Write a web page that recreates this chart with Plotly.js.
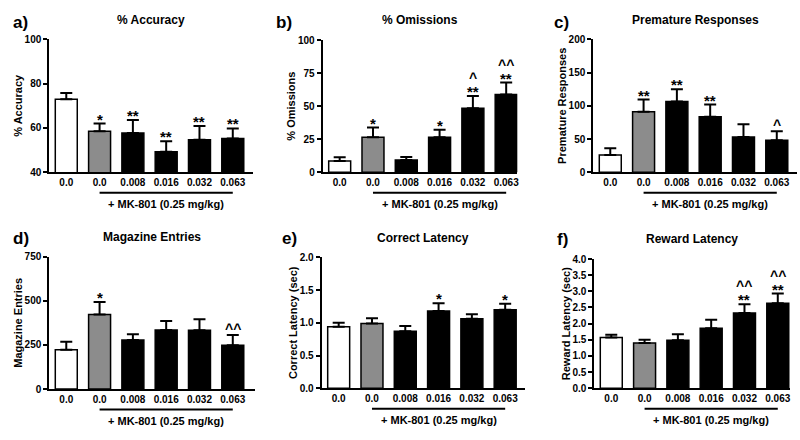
<!DOCTYPE html>
<html>
<head>
<meta charset="utf-8">
<script src="https://cdn.plot.ly/plotly-3.0.1.min.js"></script>
<style>html,body{margin:0;padding:0;background:#fff;}#chart{width:800px;height:440px;}</style>
</head>
<body>
<div id="chart"></div>
<script>
// ---- data ----
const doseLabels = ['0.0', '0.0', '0.008', '0.016', '0.032', '0.063'];
const groupLabel = '+ MK-801 (0.25 mg/kg)';

const panelLetters = ['a)', 'b)', 'c)', 'd)', 'e)', 'f)'];
const panelTitles = ['% Accuracy', '% Omissions', 'Premature Responses', 'Magazine Entries', 'Correct Latency', 'Reward Latency'];
const yTitles = ['% Accuracy', '% Omissions', 'Premature Responses', 'Magazine Entries', 'Correct Latency (sec)', 'Reward Latency (sec)'];

const accuracy = [72.9, 58.5, 57.7, 49.3, 54.7, 55.3];
const accuracyErr = [2.9, 3.5, 5.9, 4.7, 6.2, 4.5];
const omissions = [8.6, 26.4, 9.3, 26.4, 48.4, 58.9];
const omissionsErr = [2.7, 7.4, 2.3, 5.8, 9.3, 8.9];
const premature = [26.1, 91.2, 106.3, 83.7, 53.1, 48.1];
const prematureErr = [10.0, 18.1, 18.5, 18.1, 19.1, 13.6];
const magazine = [223, 423, 278, 335, 333, 248];
const magazineErr = [45, 70, 32, 51, 62, 58];
const correctLatency = [0.94, 0.99, 0.87, 1.18, 1.06, 1.20];
const correctLatencyErr = [0.06, 0.08, 0.08, 0.12, 0.07, 0.09];
const rewardLatency = [1.57, 1.40, 1.49, 1.86, 2.33, 2.63];
const rewardLatencyErr = [0.09, 0.10, 0.18, 0.26, 0.27, 0.30];

// significance markers (* vs vehicle, ^ vs MK-801 alone)
const accuracyStars = ['', '*', '**', '**', '**', '**'];
const accuracyCarets = ['', '', '', '', '', ''];
const omissionsStars = ['', '*', '', '*', '**', '**'];
const omissionsCarets = ['', '', '', '', '^', '^^'];
const prematureStars = ['', '**', '**', '**', '', ''];
const prematureCarets = ['', '', '', '', '', '^'];
const magazineStars = ['', '*', '', '', '', ''];
const magazineCarets = ['', '', '', '', '', '^^'];
const correctLatencyStars = ['', '', '', '*', '', '*'];
const correctLatencyCarets = ['', '', '', '', '', ''];
const rewardLatencyStars = ['', '', '', '', '**', '**'];
const rewardLatencyCarets = ['', '', '', '', '^^', '^^'];

const yRanges = [[40, 100], [0, 100], [0, 200], [0, 750], [0, 2], [0, 4]];
const yTickVals = [[40, 60, 80, 100], [0, 25, 50, 75, 100], [0, 50, 100, 150, 200], [0, 250, 500, 750],
  [0, 0.5, 1.0, 1.5, 2.0], [0, 0.5, 1.0, 1.5, 2.0, 2.5, 3.0, 3.5, 4.0]];

const values = [accuracy, omissions, premature, magazine, correctLatency, rewardLatency];
const errors = [accuracyErr, omissionsErr, prematureErr, magazineErr, correctLatencyErr, rewardLatencyErr];
const stars = [accuracyStars, omissionsStars, prematureStars, magazineStars, correctLatencyStars, rewardLatencyStars];
const carets = [accuracyCarets, omissionsCarets, prematureCarets, magazineCarets, correctLatencyCarets, rewardLatencyCarets];

// ---- layout geometry (pixels) ----
const W = 800, H = 440;
const boxes = [
  {l: 49.3, r: 253, t: 39.3, b: 172.3},
  {l: 322.7, r: 517.3, t: 40, b: 172.3},
  {l: 593.3, r: 797, t: 39.3, b: 172.3},
  {l: 49.3, r: 255, t: 256.7, b: 389},
  {l: 321.7, r: 525, t: 257.3, b: 388.3},
  {l: 594.3, r: 790, t: 259, b: 388.3}
];
const letterPos = [[20, 22], [284, 22], [561, 22], [21, 238], [289, 238], [562, 239]];
const titleY = [20, 20, 20, 237, 238, 239];
const FONT = 'Liberation Sans, Arial, sans-serif';
const fillColors = ['#ffffff', '#8c8c8c', '#000000', '#000000', '#000000', '#000000'];
const catStep = 33.3;

const xIdx = doseLabels.map((_, i) => i);
const traces = [];
const layout = {
  width: W, height: H,
  margin: {l: 0, r: 0, t: 0, b: 0},
  paper_bgcolor: '#fff', plot_bgcolor: 'rgba(0,0,0,0)',
  showlegend: false,
  font: {family: FONT, color: '#000', weight: 'bold'},
  annotations: [], shapes: [], bargap: 0.34
};

boxes.forEach((bx, p) => {
  const n = p + 1;
  const xa = 'x' + (n === 1 ? '' : n), ya = 'y' + (n === 1 ? '' : n);
  const xk = 'xaxis' + (n === 1 ? '' : n), yk = 'yaxis' + (n === 1 ? '' : n);
  traces.push({
    type: 'bar', x: xIdx, y: values[p], xaxis: xa, yaxis: ya,
    width: 0.66,
    marker: {color: fillColors, line: {color: '#000', width: 1.5}},
    error_y: {type: 'data', symmetric: false, array: errors[p], arrayminus: errors[p].map(() => 0),
      color: '#000', thickness: 2, width: 6},
    hoverinfo: 'skip'
  });
  const wpx = bx.r - bx.l;
  layout[xk] = {
    domain: [bx.l / W, bx.r / W], anchor: ya,
    range: [-0.51, -0.51 + wpx / catStep],
    tickmode: 'array', tickvals: xIdx, ticktext: doseLabels,
    ticks: '', showgrid: false, zeroline: false,
    showline: true, linecolor: '#000', linewidth: 2,
    tickfont: {size: 10, family: FONT, weight: 'bold', color: '#000'},
    fixedrange: true
  };
  const isLat = p >= 4;
  layout[yk] = {
    domain: [1 - bx.b / H, 1 - bx.t / H], anchor: xa,
    range: yRanges[p], tickmode: 'array', tickvals: yTickVals[p],
    ticktext: yTickVals[p].map(v => isLat ? v.toFixed(1) : String(v)),
    ticks: 'outside', ticklen: 4, tickwidth: 2, tickcolor: '#000',
    showgrid: false, zeroline: false,
    showline: true, linecolor: '#000', linewidth: 2,
    tickfont: {size: 10, family: FONT, weight: 'bold', color: '#000'},
    title: {text: yTitles[p], font: {size: 11, family: FONT, weight: 'bold', color: '#000'}, standoff: 0},
    fixedrange: true
  };
  // panel letter + title
  layout.annotations.push({
    xref: 'paper', yref: 'paper', x: letterPos[p][0] / W, y: 1 - letterPos[p][1] / H,
    text: panelLetters[p], showarrow: false, xanchor: 'center', yanchor: 'middle',
    font: {size: 17, family: FONT, weight: 'bold', color: '#000'}
  });
  layout.annotations.push({
    xref: 'paper', yref: 'paper', x: (bx.l + bx.r) / 2 / W, y: 1 - titleY[p] / H,
    text: panelTitles[p], showarrow: false, xanchor: 'center', yanchor: 'middle',
    font: {size: 12, family: FONT, weight: 'bold', color: '#000'}
  });
  // group bracket line + label
  const lineY = bx.b + 20.5, labY = bx.b + 32;
  layout.shapes.push({
    type: 'line', xref: xa, yref: 'paper', x0: 1, x1: 5,
    y0: 1 - lineY / H, y1: 1 - lineY / H, line: {color: '#000', width: 2}
  });
  layout.annotations.push({
    xref: xa, yref: 'paper', x: 3, y: 1 - labY / H,
    text: groupLabel, showarrow: false, xanchor: 'center', yanchor: 'middle',
    font: {size: 11, family: FONT, weight: 'bold', color: '#000'}
  });
  // significance markers
  xIdx.forEach(i => {
    const top = values[p][i] + errors[p][i];
    if (stars[p][i]) {
      layout.annotations.push({
        xref: xa, yref: ya, x: i, y: top, text: stars[p][i], showarrow: false,
        xanchor: 'center', yanchor: 'bottom', yshift: -6,
        font: {size: 15, family: FONT, weight: 'bold', color: '#000'}
      });
    }
    if (carets[p][i]) {
      layout.annotations.push({
        xref: xa, yref: ya, x: i, y: top, text: carets[p][i], showarrow: false,
        xanchor: 'center', yanchor: 'bottom', yshift: stars[p][i] ? 8 : -4,
        font: {size: 14, family: FONT, weight: 'bold', color: '#000'}
      });
    }
  });
});

Plotly.newPlot('chart', traces, layout, {staticPlot: true, displayModeBar: false});
</script>
</body>
</html>
